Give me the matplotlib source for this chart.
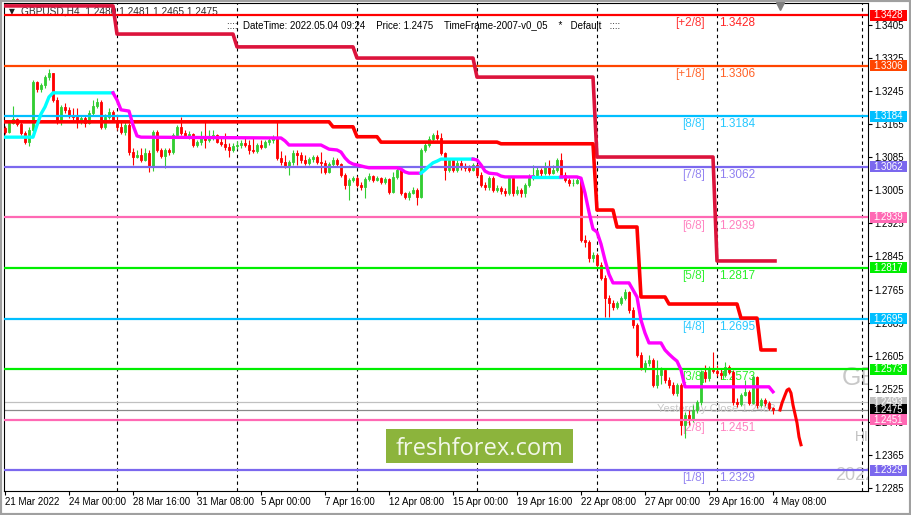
import numpy as np
import matplotlib
matplotlib.use('Agg')
import matplotlib.pyplot as plt
from matplotlib.patches import Rectangle
import matplotlib.transforms as mtransforms

plt.rcParams['font.family'] = ['Liberation Sans', 'DejaVu Sans']

W, H = 911, 515

# ── candles (H4 bars, open = previous close) ──
first_open = 1.3155
closes = [
    1.3146, 1.3167, 1.3177, 1.3165, 1.3143, 1.3121, 1.3150, 1.3266, 1.3249, 1.3259,
    1.3278, 1.3288, 1.3223, 1.3170, 1.3206, 1.3199, 1.3187, 1.3182, 1.3170, 1.3179,
    1.3167, 1.3191, 1.3208, 1.3218, 1.3158, 1.3182, 1.3194, 1.3174, 1.3158, 1.3146,
    1.3162, 1.3097, 1.3085, 1.3090, 1.3078, 1.3095, 1.3061, 1.3146, 1.3102, 1.3088,
    1.3102, 1.3097, 1.3138, 1.3158, 1.3143, 1.3136, 1.3141, 1.3114, 1.3121, 1.3131,
    1.3126, 1.3136, 1.3138, 1.3121, 1.3116, 1.3109, 1.3102, 1.3112, 1.3114, 1.3119,
    1.3114, 1.3102, 1.3100, 1.3114, 1.3109, 1.3121, 1.3126, 1.3131, 1.3083, 1.3073,
    1.3063, 1.3073, 1.3095, 1.3090, 1.3078, 1.3071, 1.3080, 1.3085, 1.3073, 1.3071,
    1.3049, 1.3068, 1.3078, 1.3068, 1.3042, 1.3017, 1.3030, 1.3034, 1.3017, 1.3013,
    1.3032, 1.3039, 1.3030, 1.3034, 1.3025, 1.3032, 1.3001, 1.3037, 1.3054, 1.2998,
    1.2988, 1.2998, 1.3005, 1.2988, 1.3102, 1.3114, 1.3129, 1.3138, 1.3131, 1.3095,
    1.3054, 1.3078, 1.3054, 1.3071, 1.3061, 1.3059, 1.3054, 1.3066, 1.3042, 1.3017,
    1.3013, 1.3034, 1.3005, 1.3010, 1.3003, 1.2998, 1.3034, 1.2998, 1.3005, 1.2998,
    1.3017, 1.3034, 1.3042, 1.3054, 1.3046, 1.3063, 1.3046, 1.3054, 1.3078, 1.3042,
    1.3030, 1.3022, 1.3022, 1.3030, 1.2885, 1.2880, 1.2841, 1.2848, 1.2824, 1.2793,
    1.2745, 1.2732, 1.2723, 1.2732, 1.2745, 1.2759, 1.2716, 1.2679, 1.2607, 1.2576,
    1.2588, 1.2595, 1.2535, 1.2559, 1.2571, 1.2547, 1.2535, 1.2515, 1.2535, 1.2438,
    1.2462, 1.2450, 1.2474, 1.2493, 1.2566, 1.2551, 1.2576, 1.2568, 1.2563, 1.2559,
    1.2578, 1.2566, 1.2493, 1.2489, 1.2510, 1.2518, 1.2491, 1.2554, 1.2486, 1.2498,
    1.2491, 1.2480, 1.2475,
]
highs = [
    1.3160, 1.3174, 1.3208, 1.3179, 1.3172, 1.3148, 1.3158, 1.3271, 1.3269, 1.3264,
    1.3283, 1.3298, 1.3288, 1.3230, 1.3211, 1.3216, 1.3206, 1.3203, 1.3203, 1.3187,
    1.3184, 1.3199, 1.3223, 1.3228, 1.3223, 1.3189, 1.3203, 1.3199, 1.3184, 1.3170,
    1.3170, 1.3167, 1.3107, 1.3102, 1.3107, 1.3107, 1.3102, 1.3150, 1.3150, 1.3107,
    1.3107, 1.3107, 1.3143, 1.3162, 1.3182, 1.3150, 1.3148, 1.3143, 1.3126, 1.3148,
    1.3174, 1.3150, 1.3150, 1.3141, 1.3136, 1.3143, 1.3119, 1.3119, 1.3124, 1.3126,
    1.3131, 1.3126, 1.3131, 1.3119, 1.3126, 1.3126, 1.3133, 1.3138, 1.3170, 1.3100,
    1.3090, 1.3078, 1.3102, 1.3102, 1.3097, 1.3090, 1.3085, 1.3090, 1.3090, 1.3097,
    1.3078, 1.3073, 1.3085, 1.3083, 1.3071, 1.3046, 1.3034, 1.3039, 1.3039, 1.3025,
    1.3037, 1.3046, 1.3042, 1.3039, 1.3037, 1.3037, 1.3034, 1.3049, 1.3059, 1.3054,
    1.3001, 1.3003, 1.3013, 1.3010, 1.3107, 1.3121, 1.3136, 1.3143, 1.3150, 1.3143,
    1.3097, 1.3083, 1.3083, 1.3078, 1.3078, 1.3071, 1.3066, 1.3071, 1.3068, 1.3049,
    1.3025, 1.3039, 1.3039, 1.3017, 1.3015, 1.3010, 1.3039, 1.3039, 1.3015, 1.3010,
    1.3022, 1.3044, 1.3066, 1.3061, 1.3059, 1.3073, 1.3078, 1.3066, 1.3083, 1.3095,
    1.3049, 1.3034, 1.3032, 1.3037, 1.3037, 1.2897, 1.2885, 1.2856, 1.2853, 1.2831,
    1.2800, 1.2752, 1.2740, 1.2737, 1.2749, 1.2766, 1.2761, 1.2723, 1.2684, 1.2614,
    1.2595, 1.2607, 1.2600, 1.2595, 1.2578, 1.2576, 1.2554, 1.2542, 1.2539, 1.2539,
    1.2469, 1.2474, 1.2486, 1.2498, 1.2571, 1.2583, 1.2580, 1.2614, 1.2583, 1.2576,
    1.2590, 1.2583, 1.2571, 1.2503, 1.2515, 1.2547, 1.2522, 1.2559, 1.2556, 1.2503,
    1.2503, 1.2496, 1.2481,
]
lows = [
    1.3141, 1.3143, 1.3165, 1.3160, 1.3138, 1.3116, 1.3112, 1.3143, 1.3242, 1.3242,
    1.3252, 1.3271, 1.3218, 1.3165, 1.3162, 1.3191, 1.3179, 1.3174, 1.3155, 1.3165,
    1.3158, 1.3165, 1.3187, 1.3203, 1.3153, 1.3153, 1.3177, 1.3170, 1.3150, 1.3141,
    1.3138, 1.3090, 1.3066, 1.3083, 1.3073, 1.3075, 1.3049, 1.3051, 1.3097, 1.3083,
    1.3059, 1.3090, 1.3092, 1.3133, 1.3138, 1.3131, 1.3129, 1.3109, 1.3109, 1.3114,
    1.3107, 1.3121, 1.3126, 1.3119, 1.3112, 1.3102, 1.3085, 1.3097, 1.3104, 1.3107,
    1.3109, 1.3092, 1.3095, 1.3095, 1.3104, 1.3107, 1.3114, 1.3119, 1.3078, 1.3066,
    1.3059, 1.3042, 1.3066, 1.3066, 1.3071, 1.3066, 1.3066, 1.3073, 1.3068, 1.3046,
    1.3044, 1.3046, 1.3063, 1.3063, 1.3037, 1.3008, 1.2981, 1.3025, 1.3013, 1.3005,
    1.2986, 1.3027, 1.3025, 1.3027, 1.3020, 1.3020, 1.2996, 1.2998, 1.3032, 1.2993,
    1.2984, 1.2981, 1.2996, 1.2969, 1.2986, 1.3097, 1.3109, 1.3124, 1.3126, 1.3090,
    1.3030, 1.3049, 1.3049, 1.3049, 1.3054, 1.3051, 1.3049, 1.3051, 1.3037, 1.3013,
    1.3005, 1.3005, 1.3001, 1.3001, 1.2996, 1.2991, 1.2993, 1.2991, 1.2993, 1.2988,
    1.2988, 1.3013, 1.3030, 1.3037, 1.3039, 1.3042, 1.3042, 1.3044, 1.3049, 1.3037,
    1.3025, 1.3015, 1.3015, 1.3020, 1.2880, 1.2868, 1.2831, 1.2831, 1.2817, 1.2788,
    1.2699, 1.2699, 1.2716, 1.2718, 1.2728, 1.2740, 1.2708, 1.2672, 1.2602, 1.2571,
    1.2566, 1.2580, 1.2530, 1.2527, 1.2537, 1.2539, 1.2527, 1.2510, 1.2508, 1.2414,
    1.2406, 1.2438, 1.2445, 1.2467, 1.2486, 1.2542, 1.2544, 1.2563, 1.2556, 1.2549,
    1.2554, 1.2561, 1.2486, 1.2481, 1.2484, 1.2508, 1.2486, 1.2489, 1.2479, 1.2481,
    1.2484, 1.2474, 1.2465,
]

# time axis labels (every 16 bars)
tick_labels = ['21 Mar 2022', '24 Mar 00:00', '28 Mar 16:00', '31 Mar 08:00', '5 Apr 00:00',
               '7 Apr 16:00', '12 Apr 08:00', '15 Apr 00:00', '19 Apr 16:00', '22 Apr 08:00',
               '27 Apr 00:00', '29 Apr 16:00', '4 May 08:00']
tick_bars = [0, 16, 32, 48, 64, 80, 96, 112, 128, 144, 160, 176, 192]
week_seps = [28, 58, 88, 118, 148, 178, 214.25]

price_ticks = [1.3405, 1.3325, 1.3245, 1.3165, 1.3085, 1.3005, 1.2925, 1.2845,
               1.2765, 1.2685, 1.2605, 1.2525, 1.2445, 1.2365, 1.2285]

# Murrey levels
level_names = ['[+2/8]', '[+1/8]', '[8/8]', '[7/8]', '[6/8]', '[5/8]', '[4/8]', '[3/8]', '[2/8]', '[1/8]']
level_vals = [1.3428, 1.3306, 1.3184, 1.3062, 1.2939, 1.2817, 1.2695, 1.2573, 1.2451, 1.2329]
level_colors = ['#FF0000', '#FF4500', '#00BFFF', '#7B68EE', '#FF69B4',
                '#00EE00', '#00BFFF', '#00EE00', '#FF69B4', '#7B68EE']

# weekly step line (crimson)
crimson_start = [-0.5, 28, 58, 88, 118, 148, 178]
crimson_end = [27, 57, 87, 117, 147, 177, 192.5]
crimson_val = [1.3450, 1.3382, 1.3351, 1.3324, 1.3278, 1.3085, 1.2834]

# stepped red line
red_start = [-0.5, 82, 88, 94, 124, 148, 153, 159, 166, 184, 189]
red_end = [81, 87, 93, 123, 147, 152, 158, 165, 183, 188, 192.5]
red_val = [1.3170, 1.3158, 1.3134, 1.3121, 1.3117, 1.2957, 1.2916, 1.2747, 1.2730, 1.2696, 1.2619]

# two-colour trend line
ma_bars = [-0.5, 7, 8, 9, 10, 11, 12, 27, 28, 29, 31, 32, 33, 34, 69, 70, 71, 79, 80, 81,
           83, 84, 85, 86, 87, 88, 90, 91, 98, 99, 100, 101, 104, 105, 106, 107, 108, 109,
           117, 118, 119, 120, 121, 123, 124, 125, 132, 139, 143, 144, 145, 146, 147, 148,
           149, 150, 151, 152, 156, 157, 158, 159, 160, 161, 164, 165, 166, 167, 168, 169,
           170, 191, 192]
ma_vals = [1.3133, 1.3133, 1.3162, 1.3189, 1.3206, 1.3230, 1.3240, 1.3240, 1.3223, 1.3199,
           1.3196, 1.3162, 1.3136, 1.3133, 1.3131, 1.3124, 1.3114, 1.3114, 1.3109, 1.3104,
           1.3102, 1.3097, 1.3083, 1.3073, 1.3068, 1.3066, 1.3061, 1.3059, 1.3059, 1.3056,
           1.3049, 1.3046, 1.3046, 1.3054, 1.3063, 1.3071, 1.3075, 1.3080, 1.3080, 1.3078,
           1.3066, 1.3051, 1.3046, 1.3044, 1.3039, 1.3037, 1.3037, 1.3037, 1.3037, 1.3034,
           1.2998, 1.2952, 1.2911, 1.2904, 1.2875, 1.2836, 1.2802, 1.2781, 1.2781, 1.2764,
           1.2747, 1.2691, 1.2660, 1.2636, 1.2636, 1.2619, 1.2609, 1.2600, 1.2592, 1.2571,
           1.2530, 1.2530, 1.2518]
ma_seg_start = [-0.5, 27, 104, 117, 132, 139]
ma_seg_end = [27, 104, 117, 132, 139, 192]
ma_seg_color = ['#00FFFF', '#FF00FF', '#00FFFF', '#FF00FF', '#00FFFF', '#FF00FF']

# forecast arrow
proj_bars = [193.75, 194.25, 195, 195.5, 196, 196.5, 197, 198, 198.5, 199]
proj_vals = [1.2474, 1.2491, 1.2510, 1.2522, 1.2525, 1.2515, 1.2486, 1.2443, 1.2409, 1.2390]

prev_line = 1.2493
bid = 1.2475
yesterday_close = 1.2488

# ── figure ──
fig = plt.figure(figsize=(W / 100, H / 100), dpi=100, facecolor='white')
ax = fig.add_axes([4 / W, 1 - 491 / H, 864 / W, 488 / H])
ax.set_xlim(-0.25, 215.75)
ax.set_ylim(1.22784, 1.34570)
for sp in ax.spines.values():
    sp.set_color('black'); sp.set_linewidth(0.8)

# candles
o = np.array([first_open] + closes[:-1])
c = np.array(closes)
x = np.arange(len(c))
cols = np.where(c >= o, '#32CD32', '#FF0000')
ax.vlines(x, lows, highs, colors=cols, lw=0.8, zorder=3)
ax.bar(x, c - o, bottom=o, width=0.6, color=cols, edgecolor=cols, lw=0.6, zorder=3)

# separators
for b in week_seps:
    ax.axvline(b, color='black', ls=(0, (3, 3)), lw=0.8, zorder=2)

# levels
for name, v, col in zip(level_names, level_vals, level_colors):
    ax.axhline(v, color=col, lw=1.6, zorder=4)
    ax.annotate(name, xy=(175, v), xytext=(0, -1.5), textcoords='offset points',
                ha='right', va='top', fontsize=8.5, color=col, alpha=0.8, zorder=2.5)
    ax.annotate(f'{v:.4f}', xy=(178.5, v), xytext=(0, -1.5), textcoords='offset points',
                ha='left', va='top', fontsize=8.5, color=col, alpha=0.85, zorder=2.5)

ax.axhline(prev_line, color='#C0C0C0', lw=0.9, zorder=2)
ax.axhline(bid, color='#8A8A8A', lw=0.9, zorder=2)
ax.text(163, 1.24765, f'Yesterday Close {yesterday_close:.4f}', fontsize=8, color='#C8C8C8',
        va='center', ha='left', zorder=2)

# step lines
def step_xy(starts, ends, vals):
    xs, ys = [], []
    for s, e, v in zip(starts, ends, vals):
        xs += [s, e]; ys += [v, v]
    return xs, ys

sx, sy = step_xy(crimson_start, crimson_end, crimson_val)
ax.plot(sx, sy, color='#DC143C', lw=2.6, zorder=5)
sx, sy = step_xy(red_start, red_end, red_val)
ax.plot(sx, sy, color='#FF0000', lw=2.6, zorder=5)

mb = np.array(ma_bars); mv = np.array(ma_vals)
for s, e, col in zip(ma_seg_start, ma_seg_end, ma_seg_color):
    m = (mb >= s) & (mb <= e)
    ax.plot(mb[m], mv[m], color=col, lw=2.4, zorder=6)

ax.plot(proj_bars, proj_vals, color='#FF0000', lw=2.2, zorder=6)

# watermark texts (clipped at chart edge)
ax.text(209.25, 1.2535, 'GBPUSD', fontsize=18, color='#C8C8C8', va='baseline', clip_on=True, zorder=1)
ax.text(212.5, 1.2409, 'HIGH', fontsize=10, color='#C0C0C0', va='center', clip_on=True, zorder=1)
ax.text(207.5, 1.2315, '2022.05', fontsize=13, color='#C8C8C8', va='center', clip_on=True, zorder=1)

# shift marker
ax.plot([193.75], [1.3450], marker='v', ms=6, color='#808080', clip_on=False, zorder=8)

# axes ticks
ax.set_xticks(tick_bars)
ax.set_xticklabels(tick_labels)
for lb in ax.get_xticklabels():
    lb.set_ha('left')
ax.tick_params(axis='x', length=3, width=0.8, pad=1.5, labelsize=7)
ax.yaxis.tick_right()
ax.set_yticks(price_ticks)
ax.set_yticklabels([f'{v:.4f}' for v in price_ticks])
ax.tick_params(axis='y', length=3, width=0.8, pad=1.5, labelsize=7)

# right-side price boxes
trans = mtransforms.blended_transform_factory(ax.transAxes, ax.transData)
box_h = 11 * (1.34570 - 1.22784) / 488
box_vals = [prev_line, bid] + level_vals
box_colors = ['#C0C0C0', '#000000'] + level_colors
for v, col in zip(box_vals, box_colors):
    ax.add_patch(Rectangle((866 / 864, v - box_h / 2), 37 / 864, box_h, transform=trans,
                           fc=col, ec='none', clip_on=False, zorder=10))
    ax.text(884.5 / 864, v, f'{v:.4f}', transform=trans, ha='center', va='center',
            fontsize=7, color='white', clip_on=False, zorder=11)

# header texts
ax.text(9 / W, 1 - 12 / H, '\u25BC', transform=fig.transFigure, fontsize=5.5, color='#202020',
        va='center', family='DejaVu Sans', zorder=1)
ax.text(21 / W, 1 - 12 / H, 'GBPUSD,H4  1.2480 1.2481 1.2465 1.2475', transform=fig.transFigure,
        fontsize=7.3, color='#303030', va='center', zorder=1)
ax.text(227 / W, 1 - 25 / H,
        '::::  DateTime: 2022.05.04 09:24    Price: 1.2475    TimeFrame-2007-v0_05    *   Default   ::::',
        transform=fig.transFigure, fontsize=7, color='black', va='center', zorder=1)

# logo
fig.patches.append(Rectangle((386 / W, 1 - 463 / H), 187 / W, 34 / H, transform=fig.transFigure,
                             fc='#8CB43C', ec='none', zorder=20))
fig.text(479.5 / W, 1 - 455 / H, 'freshforex.com', ha='center', va='baseline', color='#F2F7E8',
         fontsize=17, family='Open Sans', zorder=21)

# window frame
fig.patches.append(Rectangle((0, 0), 1, 1, transform=fig.transFigure, fill=False,
                             ec='#A0A0A0', lw=3, zorder=30))

fig.savefig('out.png', dpi=100)
